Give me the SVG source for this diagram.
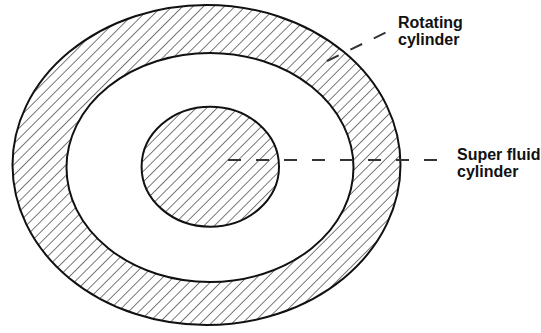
<svg xmlns="http://www.w3.org/2000/svg" width="541" height="333" viewBox="0 0 541 333">
  <style>
    .outline { stroke: #111; stroke-width: 2; fill: url(#hatch); }
    .label { font-family: "Liberation Sans", Arial, sans-serif; font-weight: bold; font-size: 16px; fill: #111; }
    .leader { stroke: #333; stroke-width: 2; fill: none; }
  </style>
  <defs>
    <pattern id="hatch" patternUnits="userSpaceOnUse" width="7.4" height="7.4" patternTransform="rotate(45)">
      <rect width="7.4" height="7.4" fill="#fff"/>
      <line x1="0" y1="0" x2="0" y2="7.4" stroke="#222" stroke-width="1.2"/>
    </pattern>
  </defs>
  <rect width="541" height="333" fill="#fff"/>
  <g id="rotating-cylinder">
    <path class="outline" fill-rule="evenodd" d="M 12.5,165 a194,160 0 1,0 388,0 a194,160 0 1,0 -388,0 Z M 66.5,167.5 a143.5,114.5 0 1,0 287,0 a143.5,114.5 0 1,0 -287,0 Z"/>
  </g>
  <g id="superfluid-cylinder">
    <ellipse class="outline" cx="210.3" cy="166.7" rx="68.7" ry="60"/>
  </g>
  <g id="connectors">
    <line class="leader" x1="228" y1="160" x2="438" y2="160" stroke-dasharray="13 15"/>
    <line class="leader" x1="327" y1="61" x2="388" y2="31.5" stroke-dasharray="13 13" stroke-width="1.8" stroke="#111"/>
  </g>
  <g id="label-rotating">
    <text class="label" x="398" y="28">Rotating</text>
    <text class="label" x="398" y="45">cylinder</text>
  </g>
  <g id="label-superfluid">
    <text class="label" x="457" y="159.5">Super fluid</text>
    <text class="label" x="457" y="176.5">cylinder</text>
  </g>
</svg>
